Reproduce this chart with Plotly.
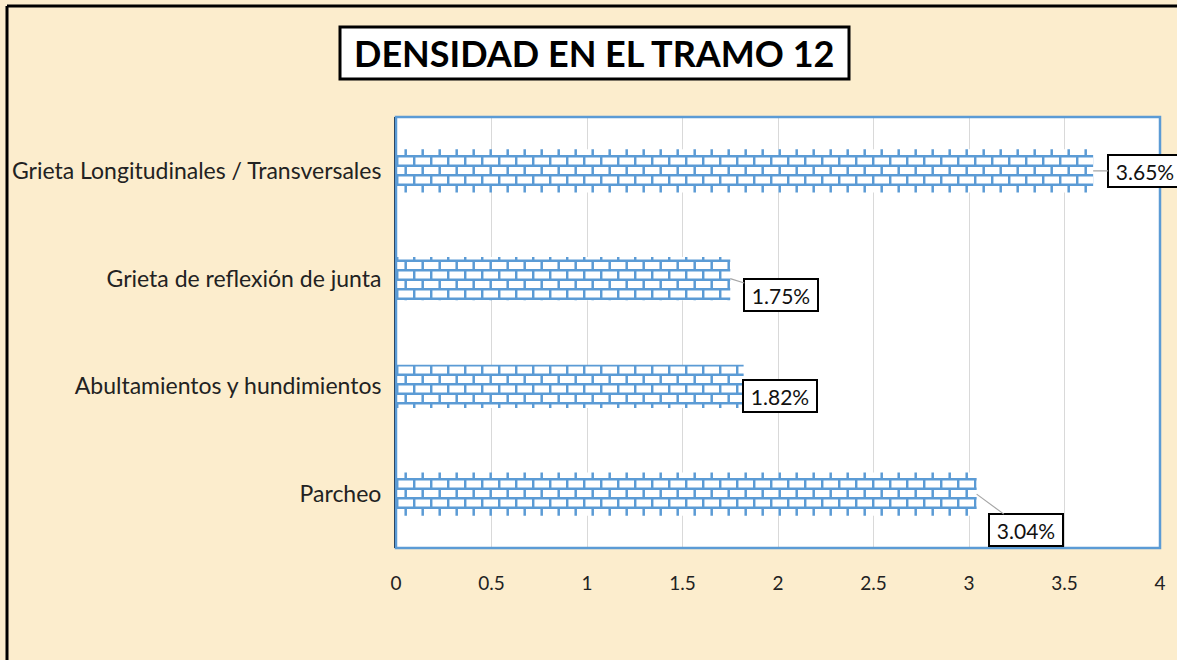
import plotly.graph_objects as go

categories = ["Parcheo", "Abultamientos y hundimientos",
              "Grieta de reflexión de junta", "Grieta Longitudinales / Transversales"]
values = [3.04, 1.82, 1.75, 3.65]
labels = ["3.04%", "1.82%", "1.75%", "3.65%"]
tick_vals = [0, 0.5, 1, 1.5, 2, 2.5, 3, 3.5, 4]
tick_text = ["0", "0.5", "1", "1.5", "2", "2.5", "3", "3.5", "4"]
title_text = "DENSIDAD EN EL TRAMO 12"

label_offsets = [(49, 36), (36, 10), (51, 16), (52, 0)]

FONT = "Lato, Open Sans, sans-serif"
BLUE = "#5b9bd5"

fig = go.Figure()
fig.add_trace(go.Bar(
    y=categories, x=values, orientation="h",
    marker=dict(color=BLUE, line=dict(width=0),
                pattern=dict(shape="+", fgcolor=BLUE, bgcolor="white", fgopacity=1,
                             size=16, solidity=0.4, fillmode="replace")),
    width=0.4, hoverinfo="skip", showlegend=False,
))

annotations = []
for c, v, t, (ax, ay) in zip(categories, values, labels, label_offsets):
    annotations.append(dict(
        x=v, y=c, xref="x", yref="y", text=t, showarrow=True,
        ax=ax, ay=ay, arrowhead=0, arrowwidth=1.2, arrowcolor="#a6a6a6",
        standoff=0, startstandoff=0, width=64, height=22, align="center",
        bgcolor="white", bordercolor="black", borderwidth=2, borderpad=4,
        font=dict(family=FONT, size=21, color="#111"),
    ))

annotations.append(dict(
    x=(594 - 396) / 764, y=(548 - 53) / 431, xref="paper", yref="paper",
    text="<b>" + title_text + "</b>",
    showarrow=False, xanchor="center", yanchor="middle",
    font=dict(family=FONT, size=36, color="black"),
))

shapes = [
    dict(type="rect", xref="paper", yref="paper",
         x0=(340 - 396) / 764, x1=(849 - 396) / 764,
         y0=(548 - 79) / 431, y1=(548 - 27) / 431,
         fillcolor="white", line=dict(color="black", width=3), layer="below"),
    dict(type="rect", xref="paper", yref="paper", x0=0, x1=1, y0=0, y1=1,
         line=dict(color=BLUE, width=2.5), layer="above"),
    dict(type="line", xref="paper", yref="paper",
         x0=(7 - 396) / 764, x1=(1180 - 396) / 764, y0=(548 - 6) / 431, y1=(548 - 6) / 431,
         line=dict(color="black", width=3)),
    dict(type="line", xref="paper", yref="paper",
         x0=(7 - 396) / 764, x1=(7 - 396) / 764, y0=(548 - 6) / 431, y1=(548 - 670) / 431,
         line=dict(color="black", width=3)),
]

fig.update_layout(
    width=1177, height=660,
    margin=dict(l=396, r=17, t=117, b=112),
    paper_bgcolor="#fcedcd", plot_bgcolor="white",
    font=dict(family=FONT, size=20, color="#222"),
    bargap=0.6,
    xaxis=dict(range=[0, 4], tickvals=tick_vals, ticktext=tick_text,
               showgrid=True, gridcolor="#d9d9d9", gridwidth=1,
               zeroline=False, showline=False, ticks="",
               ticklabelstandoff=22, tickfont=dict(size=19, color="#222")),
    yaxis=dict(categoryorder="array", categoryarray=categories,
               showline=True, linecolor="#1c2a3a", linewidth=2,
               showgrid=False, zeroline=False, ticks="",
               ticklabelstandoff=8, tickfont=dict(size=23, color="#222")),
    annotations=annotations, shapes=shapes,
)

# Restyle the bar fill pattern into a brick pattern (purely cosmetic SVG tweak)
brick_js = """
document.body.style.margin='0';document.body.style.overflow='hidden';
var gd = document.getElementById('{plot_id}');
function brick(){
  gd.querySelectorAll('pattern').forEach(function(p){
    if (p.getAttribute('data-brick')) return;
    p.setAttribute('data-brick','1');
    p.setAttribute('width','17'); p.setAttribute('height','19');
    p.removeAttribute('viewBox'); p.removeAttribute('patternTransform');
    p.innerHTML = '<rect width="17" height="19" fill="white"></rect>' +
      '<path d="M0,1.2H17M0,10.7H17M1.2,1V11M9.7,10.5V20" stroke="#5b9bd5" stroke-width="2.5" fill="none"></path>';
  });
}
brick();
gd.on('plotly_afterplot', brick);
"""

fig.write_html("out.html", config={"displayModeBar": False}, post_script=brick_js)
